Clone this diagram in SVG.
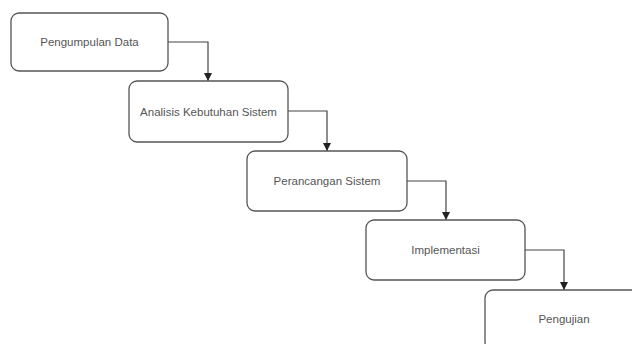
<svg xmlns="http://www.w3.org/2000/svg" width="632" height="344" viewBox="0 0 632 344">
  <style>
    .box { fill: #ffffff; stroke: #555555; stroke-width: 1.3; }
    .lbl { font-family: "Liberation Sans", Arial, sans-serif; font-size: 11.5px; fill: #555555; text-anchor: middle; dominant-baseline: central; }
    .edge { fill: none; stroke: #444444; stroke-width: 1.2; marker-end: url(#arrow); }
  </style>
  <defs>
    <marker id="arrow" viewBox="0 0 10 10" refX="10" refY="5" markerWidth="8" markerHeight="8" markerUnits="userSpaceOnUse" orient="auto">
      <path d="M0,0 L10,5 L0,10 Z" fill="#222222"/>
    </marker>
  </defs>
  <rect width="632" height="344" fill="#ffffff"/>

  <g id="connectors">
    <path class="edge" d="M168,42 H208 V81"/>
    <path class="edge" d="M288,111 H327 V151"/>
    <path class="edge" d="M407,181 H446 V220"/>
    <path class="edge" d="M525,250 H564 V290"/>
  </g>

  <g id="pengumpulan-data">
    <rect class="box" x="11" y="13" width="157" height="58" rx="8"/>
    <text class="lbl" x="89.5" y="42">Pengumpulan Data</text>
  </g>
  <g id="analisis-kebutuhan">
    <rect class="box" x="129" y="81" width="159" height="61" rx="8"/>
    <text class="lbl" x="208.5" y="111.5">Analisis Kebutuhan Sistem</text>
  </g>
  <g id="perancangan-sistem">
    <rect class="box" x="247" y="151" width="160" height="60" rx="8"/>
    <text class="lbl" x="327" y="181">Perancangan Sistem</text>
  </g>
  <g id="implementasi">
    <rect class="box" x="366" y="220" width="159" height="60" rx="8"/>
    <text class="lbl" x="445.5" y="250">Implementasi</text>
  </g>
  <g id="pengujian">
    <rect class="box" x="485" y="290" width="158" height="60" rx="8"/>
    <text class="lbl" x="564" y="319">Pengujian</text>
  </g>
</svg>
